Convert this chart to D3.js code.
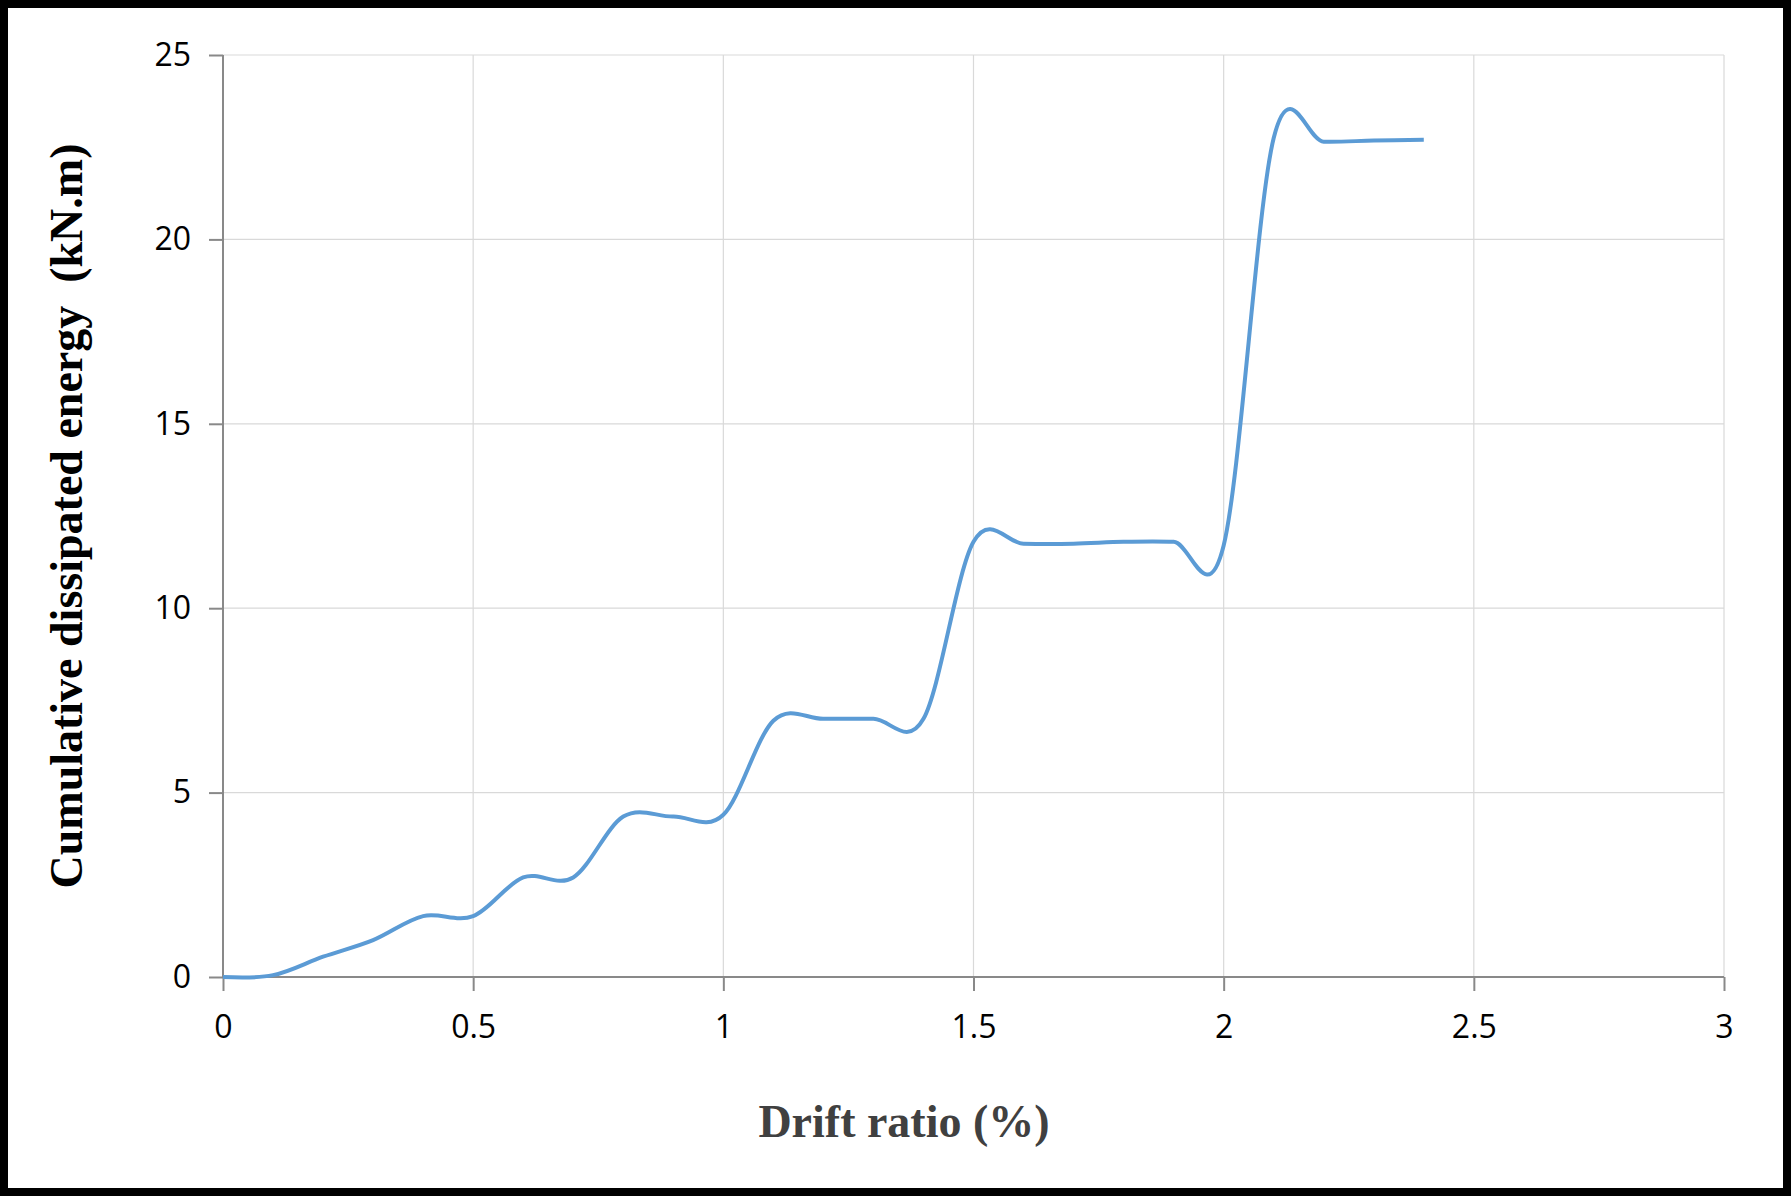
<!DOCTYPE html>
<html>
<head>
<script src="https://d3js.org/d3.v7.min.js"></script>
<style>
  body { margin: 0; background: #fff; }
</style>
</head>
<body>
<svg id="chart" width="1791" height="1196"></svg>
<script>
const drift = [0, 0.1, 0.2, 0.3, 0.4, 0.5, 0.6, 0.7, 0.8, 0.9, 1.0, 1.1, 1.2, 1.3, 1.4, 1.5, 1.6, 1.7, 1.8, 1.9, 2.0, 2.1, 2.2, 2.3, 2.4];
const energy = [0, 0.05, 0.55, 1.0, 1.65, 1.65, 2.7, 2.7, 4.35, 4.35, 4.4, 6.95, 7.0, 7.0, 7.0, 11.8, 11.75, 11.75, 11.8, 11.8, 11.7, 22.75, 22.65, 22.68, 22.7];
const xTicks = [0, 0.5, 1, 1.5, 2, 2.5, 3];
const yTicks = [0, 5, 10, 15, 20, 25];

const svg = d3.select("#chart");
const margin = { left: 223, right: 1724, top: 55, bottom: 977 };

svg.append("rect").attr("x", 4).attr("y", 4).attr("width", 1783).attr("height", 1188)
  .attr("fill", "none").attr("stroke", "black").attr("stroke-width", 8);

const x = d3.scaleLinear().domain([0, 3]).range([margin.left, margin.right]);
const y = d3.scaleLinear().domain([0, 25]).range([margin.bottom, margin.top]);

// grid
svg.append("g").selectAll("line").data(xTicks.slice(1)).join("line")
  .attr("x1", d => x(d)).attr("x2", d => x(d))
  .attr("y1", margin.top).attr("y2", margin.bottom)
  .attr("stroke", "#d9d9d9").attr("stroke-width", 1.2);
svg.append("g").selectAll("line").data(yTicks.slice(1)).join("line")
  .attr("x1", margin.left).attr("x2", margin.right)
  .attr("y1", d => y(d)).attr("y2", d => y(d))
  .attr("stroke", "#d9d9d9").attr("stroke-width", 1.2);

const xAxis = svg.append("g").attr("transform", `translate(0,${margin.bottom})`)
  .call(d3.axisBottom(x).tickValues(xTicks).tickFormat(d3.format("")).tickSize(14).tickPadding(24));
const yAxis = svg.append("g").attr("transform", `translate(${margin.left},0)`)
  .call(d3.axisLeft(y).tickValues(yTicks).tickSize(14).tickPadding(18));
[xAxis, yAxis].forEach(a => {
  a.selectAll("path,line").attr("stroke", "#898989").attr("stroke-width", 2);
  a.select(".domain").attr("d", null);
  a.selectAll("text").attr("font-family", "Open Sans, sans-serif").attr("font-size", 32).attr("fill", "#000");
});
svg.append("line").attr("x1", margin.left).attr("x2", margin.right).attr("y1", margin.bottom).attr("y2", margin.bottom)
  .attr("stroke", "#898989").attr("stroke-width", 2);
svg.append("line").attr("x1", margin.left).attr("x2", margin.left).attr("y1", margin.top).attr("y2", margin.bottom)
  .attr("stroke", "#898989").attr("stroke-width", 2);

const line = d3.line().x((d, i) => x(drift[i])).y(d => y(d)).curve(d3.curveCatmullRom.alpha(0));
svg.append("path").datum(energy).attr("d", line)
  .attr("fill", "none").attr("stroke", "#5b9bd5").attr("stroke-width", 4);

svg.append("text").attr("x", 904).attr("y", 1137).attr("text-anchor", "middle")
  .attr("font-family", "Liberation Serif, serif").attr("font-weight", "bold").attr("font-size", 46)
  .attr("fill", "#404040").text("Drift ratio (%)");
svg.append("text").attr("transform", "translate(82,516) rotate(-90)").attr("text-anchor", "middle")
  .attr("font-family", "Liberation Serif, serif").attr("font-weight", "bold").attr("font-size", 46)
  .attr("fill", "#000").attr("xml:space", "preserve").text("Cumulative dissipated energy  (kN.m)");
</script>
</body>
</html>
